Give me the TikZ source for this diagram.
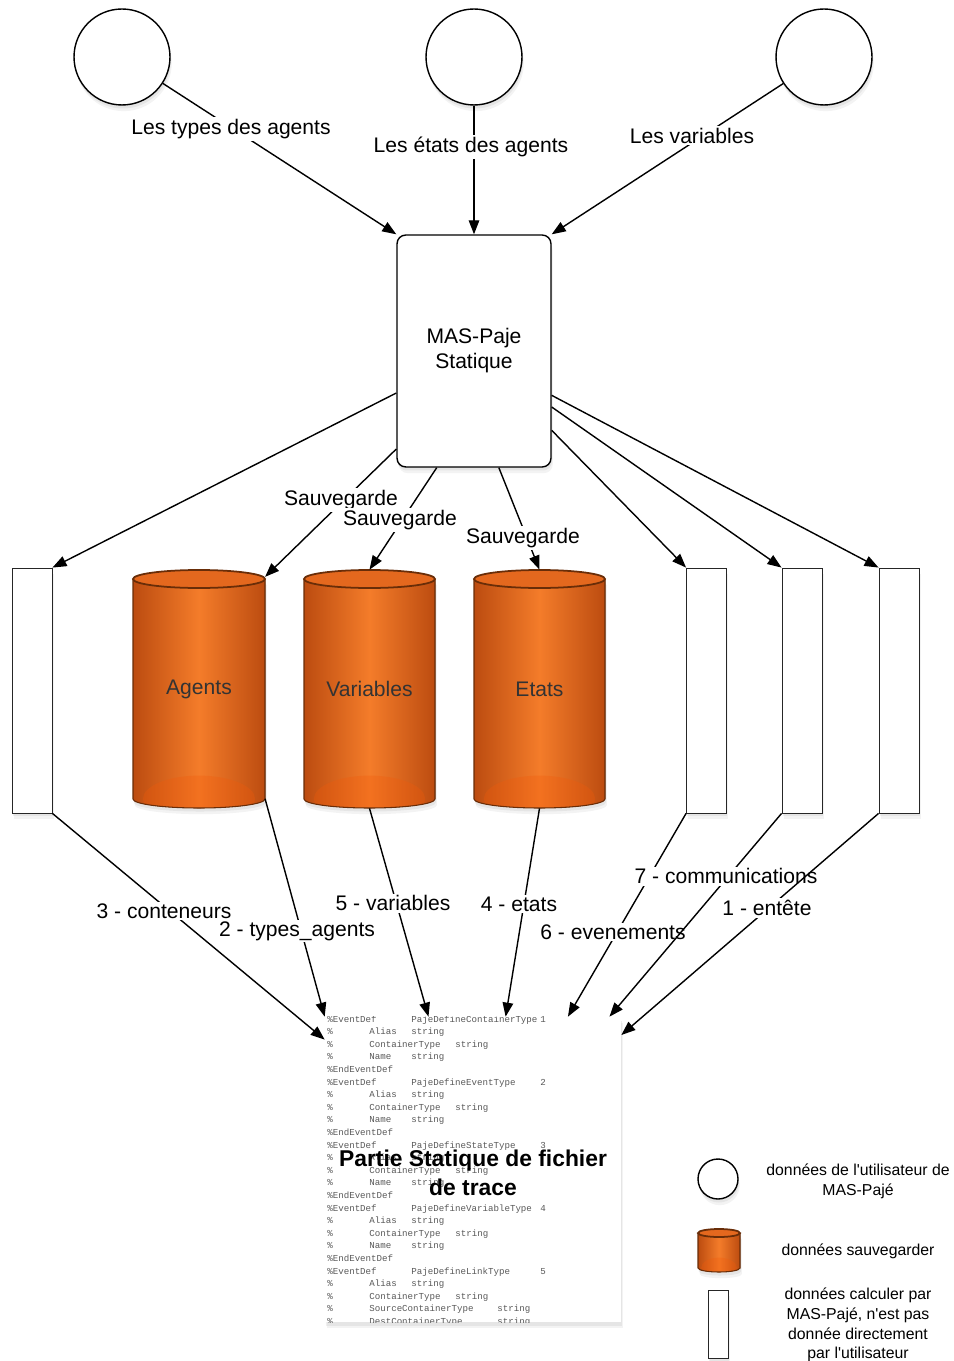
\documentclass[tikz,border=0pt]{standalone}
\usepackage{fontspec}
\setmainfont{Liberation Sans}
\newfontfamily\docmono{Liberation Mono}
\usetikzlibrary{arrows.meta,calc,shadows}
\definecolor{cylEdge}{RGB}{188,76,16}
\definecolor{cylMid}{RGB}{244,124,42}
\definecolor{cylTop}{RGB}{228,104,30}
\definecolor{cylLine}{RGB}{105,45,8}
\definecolor{cylBot}{RGB}{242,90,10}
\newcommand{\mycyl}[5]{%
  \pgfmathsetmacro{\mycx}{(#1+#2)/2}%
  \pgfmathsetmacro{\myrx}{(#2-#1)/2}%
  \fill[sh, left color=cylEdge, right color=cylEdge, middle color=cylMid]
    (#1,{-(#3+#5)}) -- (#1,{-(#4-#5)}) arc[start angle=180,end angle=360,x radius=\myrx,y radius=#5]
    -- (#2,{-(#3+#5)}) arc[start angle=0,end angle=180,x radius=\myrx,y radius=#5] -- cycle;
  \begin{scope}
    \clip (#1,{-(#3+#5)}) -- (#1,{-(#4-#5)}) arc[start angle=180,end angle=360,x radius=\myrx,y radius=#5]
    -- (#2,{-(#3+#5)}) -- cycle;
    \fill[cylBot, opacity=0.3] (\mycx,{-(#4-#5)}) ellipse[x radius=\myrx*0.85, y radius=#5*2.6];
  \end{scope}
  \draw[cylLine, line width=0.6pt]
    (#1,{-(#3+#5)}) -- (#1,{-(#4-#5)}) arc[start angle=180,end angle=360,x radius=\myrx,y radius=#5]
    -- (#2,{-(#3+#5)});
  \filldraw[fill=cylTop, draw=cylLine, line width=1pt] (\mycx,{-(#3+#5)}) ellipse[x radius=\myrx, y radius=#5];
}
\newcommand{\dl}[3]{\node[doct] (d#1-#2) at ({#2},{-(1022+(#1-1)*12.6)}) {#3};}
\begin{document}
\begin{tikzpicture}[x=0.02cm,y=0.02cm,
  sh/.style={drop shadow={opacity=0.09, shadow xshift=1pt, shadow yshift=-3.5pt},
             drop shadow={opacity=0.12, shadow xshift=0.5pt, shadow yshift=-2pt}},
  arr/.style={draw, line width=0.8pt, -{Triangle[length=8pt,width=6pt]}},
  lbl/.style={fill=white, inner sep=1pt, font=\fontsize{12}{14}\selectfont},
  ucirc/.style={circle, draw, line width=0.8pt, fill=white, minimum size=1.92cm, inner sep=0pt, sh},
  wrect/.style={rectangle, draw=black!85, line width=0.5pt, fill=white, minimum width=0.8cm, minimum height=4.9cm, inner sep=0pt, sh},
  cyltxt/.style={minimum width=2.63cm, minimum height=4.76cm, inner sep=0pt, text=black!80, font=\fontsize{12}{14}\selectfont},
  mbox/.style={rectangle, draw, line width=0.8pt, fill=white, rounded corners=5pt, minimum width=3.08cm, minimum height=4.64cm, align=center, font=\fontsize{12}{14.2}\selectfont, sh},
  docnode/.style={rectangle, fill=white, minimum width=5.92cm, minimum height=6.1cm, inner sep=0pt, sh},
  doct/.style={anchor=base west, inner sep=0pt, text=black!65, font=\docmono\fontsize{5.2}{6}\selectfont},
  legt/.style={align=center, font=\fontsize{9}{11.2}\selectfont}
]
\fill[white] (0,0) rectangle (953,-1361);
\useasboundingbox (0,0) rectangle (953,-1361);

% top circles and box
\node[ucirc] (c1) at (122,-57) {};
\node[ucirc] (c2) at (474,-57) {};
\node[ucirc] (c3) at (824,-57) {};
\node[mbox] (box) at (474,-351) {MAS-Paje\\Statique};

% rectangles
\node[wrect] (r1) at (32,-690.5) {};
\node[wrect] (r5) at (706.5,-690.5) {};
\node[wrect] (r6) at (802,-690.5) {};
\node[wrect] (r7) at (899,-690.5) {};

% cylinders
\mycyl{133}{265}{570}{808}{9}
\node[cyltxt] (ag) at (199,-689) {Agents};
\mycyl{304}{435}{570}{808}{9}
\node[cyltxt] (var) at (369.5,-689) {Variables};
\mycyl{474}{605}{570}{808}{9}
\node[cyltxt] (et) at (539.5,-689) {Etats};

% document
\node[docnode] (doc) at (473,-1169.5) {};
\begin{scope}
\clip (doc.north west) rectangle (doc.south east);
\dl{1}{327}{\%EventDef}\dl{1}{411}{PajeDefineContainerType}\dl{1}{540}{1}
\dl{2}{327}{\%}\dl{2}{369}{Alias}\dl{2}{411}{string}
\dl{3}{327}{\%}\dl{3}{369}{ContainerType}\dl{3}{455}{string}
\dl{4}{327}{\%}\dl{4}{369}{Name}\dl{4}{411}{string}
\dl{5}{327}{\%EndEventDef}
\dl{6}{327}{\%EventDef}\dl{6}{411}{PajeDefineEventType}\dl{6}{540}{2}
\dl{7}{327}{\%}\dl{7}{369}{Alias}\dl{7}{411}{string}
\dl{8}{327}{\%}\dl{8}{369}{ContainerType}\dl{8}{455}{string}
\dl{9}{327}{\%}\dl{9}{369}{Name}\dl{9}{411}{string}
\dl{10}{327}{\%EndEventDef}
\dl{11}{327}{\%EventDef}\dl{11}{411}{PajeDefineStateType}\dl{11}{540}{3}
\dl{12}{327}{\%}\dl{12}{369}{Alias}\dl{12}{411}{string}
\dl{13}{327}{\%}\dl{13}{369}{ContainerType}\dl{13}{455}{string}
\dl{14}{327}{\%}\dl{14}{369}{Name}\dl{14}{411}{string}
\dl{15}{327}{\%EndEventDef}
\dl{16}{327}{\%EventDef}\dl{16}{411}{PajeDefineVariableType}\dl{16}{540}{4}
\dl{17}{327}{\%}\dl{17}{369}{Alias}\dl{17}{411}{string}
\dl{18}{327}{\%}\dl{18}{369}{ContainerType}\dl{18}{455}{string}
\dl{19}{327}{\%}\dl{19}{369}{Name}\dl{19}{411}{string}
\dl{20}{327}{\%EndEventDef}
\dl{21}{327}{\%EventDef}\dl{21}{411}{PajeDefineLinkType}\dl{21}{540}{5}
\dl{22}{327}{\%}\dl{22}{369}{Alias}\dl{22}{411}{string}
\dl{23}{327}{\%}\dl{23}{369}{ContainerType}\dl{23}{455}{string}
\dl{24}{327}{\%}\dl{24}{369}{SourceContainerType}\dl{24}{497}{string}
\dl{25}{327}{\%}\dl{25}{369}{DestContainerType}\dl{25}{497}{string}
\end{scope}
\node[font=\bfseries\fontsize{13}{16.5}\selectfont, align=center, inner sep=0pt] (title) at (473,-1173) {Partie Statique de fichier\\de trace};

% top arrows
\draw[arr] (c1) -- (box.north west);
\node[lbl] (l1) at (231,-129) {Les types des agents};
\draw[arr] (c2) -- (box.north);
\node[lbl] (l2) at (471,-147) {Les états des agents};
\draw[arr] (c3) -- (box.north east);
\node[lbl] (l3) at (692,-136) {Les variables};

% box to storage
\draw[arr] ($(box.north west)!0.68!(box.south west)$) -- (r1.north east);
\draw[arr] ($(box.north west)!0.92!(box.south west)$) -- ($(ag.north east)!0.03!(ag.south east)$);
\node[lbl] (s1) at (341,-500) {Sauvegarde};
\draw[arr] ($(box.south west)!0.26!(box.south east)$) -- (var.north);
\node[lbl] (s2) at (400,-520) {Sauvegarde};
\draw[arr] ($(box.south west)!0.66!(box.south east)$) -- (et.north);
\node[lbl] (s3) at (523,-538) {Sauvegarde};
\draw[arr] ($(box.north east)!0.84!(box.south east)$) -- (r5.north west);
\draw[arr] ($(box.north east)!0.74!(box.south east)$) -- (r6.north west);
\draw[arr] ($(box.north east)!0.69!(box.south east)$) -- (r7.north west);

% storage to document
\draw[arr] (r1.south east) -- ($(doc.north west)!0.075!(doc.south west)$);
\node[lbl] (b3) at (164,-911) {3 - conteneurs};
\draw[arr] ($(ag.north east)!0.96!(ag.south east)$) -- (doc.north west);
\node[lbl] (b2) at (297,-931) {2 - types\_agents};
\draw[arr] (var.south) -- ($(doc.north west)!0.35!(doc.north east)$);
\node[lbl] (b5) at (393,-903) {5 - variables};
\draw[arr] (et.south) -- ($(doc.north west)!0.61!(doc.north east)$);
\node[lbl] (b4) at (519,-904) {4 - etats};
\draw[arr] (r5.south west) -- ($(doc.north west)!0.82!(doc.north east)$);
\node[lbl] (b6) at (613,-932) {6 - evenements};
\draw[arr] (r6.south west) -- ($(doc.north west)!0.96!(doc.north east)$);
\node[lbl] (b7) at (726,-876) {7 - communications};
\draw[arr] (r7.south west) -- ($(doc.north east)!0.06!(doc.south east)$);
\node[lbl] (b1) at (767,-908) {1 - entête};

% legend
\node[ucirc, minimum size=0.8cm] (lc) at (718,-1179) {};
\node[legt] (lt1) at (858,-1181) {données de l\textquotesingle utilisateur de\\MAS-Pajé};
\mycyl{698}{740}{1229}{1272}{4}
\node[inner sep=0pt, minimum width=0.84cm, minimum height=0.86cm] (lcy) at (719,-1250.5) {};
\node[legt] (lt2) at (858,-1251) {données sauvegarder};
\node[wrect, minimum width=0.4cm, minimum height=1.36cm] (lr) at (718,-1324) {};
\node[legt] (lt3) at (858,-1325) {données calculer par\\MAS-Pajé, n\textquotesingle est pas\\donnée directement\\par l\textquotesingle utilisateur};
\end{tikzpicture}
\end{document}
